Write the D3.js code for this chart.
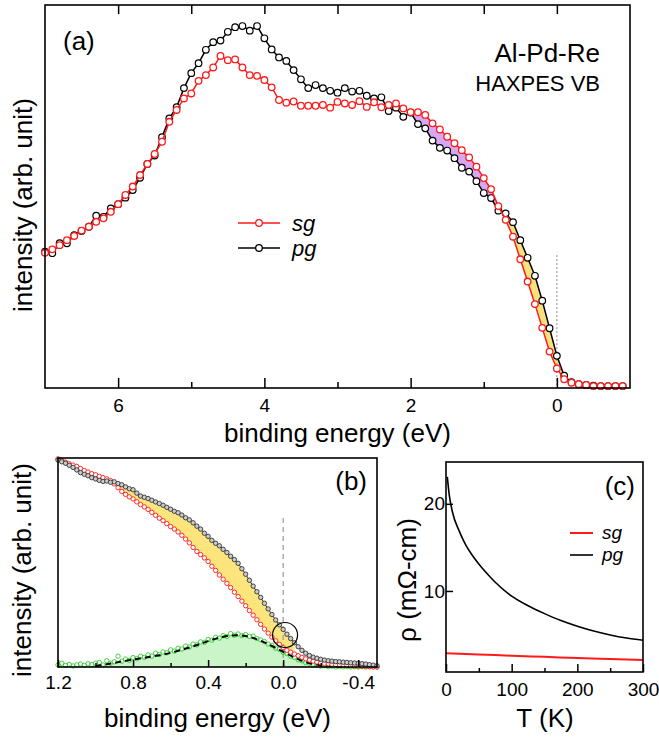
<!DOCTYPE html>
<html><head><meta charset="utf-8">
<script src="https://cdn.jsdelivr.net/npm/d3@7"></script>
<style>body{margin:0;background:#fff} text{font-family:"Liberation Sans",Arial,sans-serif;fill:#000}</style>
</head><body><svg id="c" width="659" height="737"></svg>
<script>
// ---------- DATA ----------
// Panel (a): HAXPES valence band, binding energy (eV)
const aEnergy = [7.0,6.9,6.8,6.7,6.6,6.5,6.4,6.3,6.2,6.1,6.0,5.9,5.8,5.7,5.6,5.5,5.4,5.3,5.2,5.1,
 5.0,4.9,4.8,4.7,4.6,4.5,4.4,4.3,4.2,4.1,4.0,3.9,3.8,3.7,3.6,3.5,3.4,3.3,3.2,3.1,
 3.0,2.9,2.8,2.7,2.6,2.5,2.4,2.3,2.2,2.1,2.0,1.9,1.8,1.7,1.6,1.5,1.4,1.3,1.2,1.1,
 1.0,0.9,0.8,0.7,0.6,0.5,0.4,0.3,0.2,0.1,0.0,-0.1,-0.2,-0.3,-0.4,-0.5,-0.6,-0.7,-0.8,-0.9];
const aSg = [0.353,0.362,0.373,0.386,0.397,0.411,0.421,0.434,0.443,0.460,
 0.480,0.504,0.526,0.556,0.585,0.611,0.643,0.695,0.726,0.756,
 0.769,0.802,0.817,0.837,0.867,0.856,0.858,0.837,0.817,0.815,
 0.804,0.785,0.752,0.745,0.748,0.737,0.737,0.737,0.739,0.732,
 0.747,0.743,0.739,0.749,0.734,0.746,0.733,0.739,0.743,0.730,
 0.720,0.720,0.713,0.691,0.675,0.656,0.639,0.621,0.602,0.578,
 0.548,0.519,0.475,0.439,0.395,0.336,0.278,0.219,0.157,0.095,
 0.051,0.023,0.014,0.010,0.008,0.005,0.005,0.005,0.005,0.005];
const aPg = [0.356,0.352,0.378,0.378,0.399,0.410,0.421,0.450,0.447,0.469,
 0.480,0.497,0.517,0.549,0.585,0.607,0.655,0.704,0.733,0.783,
 0.822,0.848,0.883,0.903,0.907,0.930,0.942,0.945,0.933,0.945,
 0.913,0.884,0.863,0.854,0.830,0.806,0.783,0.791,0.783,0.776,
 0.771,0.783,0.774,0.776,0.763,0.756,0.759,0.723,0.732,0.708,
 0.719,0.689,0.678,0.646,0.627,0.620,0.600,0.575,0.565,0.540,
 0.509,0.496,0.463,0.456,0.433,0.386,0.340,0.293,0.228,0.156,
 0.084,0.032,0.015,0.010,0.008,0.006,0.005,0.005,0.005,0.005];
const aTicks = [6,4,2,0];
const aTickLabels = ["6","4","2","0"];
const aMinor = [5,3,1];
const aTopTicks = [6,5,4,3,2,1,0];

// Panel (b): near-Fermi-level region
const bEnergy = [1.20,1.18,1.16,1.14,1.12,1.10,1.08,1.06,1.04,1.02,1.00,0.98,0.96,0.94,0.92,0.90,0.88,0.86,0.84,0.82,
 0.80,0.78,0.76,0.74,0.72,0.70,0.68,0.66,0.64,0.62,0.60,0.58,0.56,0.54,0.52,0.50,0.48,0.46,0.44,0.42,
 0.40,0.38,0.36,0.34,0.32,0.30,0.28,0.26,0.24,0.22,0.20,0.18,0.16,0.14,0.12,0.10,0.08,0.06,0.04,0.02,
 0.00,-0.02,-0.04,-0.06,-0.08,-0.10,-0.12,-0.14,-0.16,-0.18,-0.20,-0.22,-0.24,-0.26,-0.28,-0.30,-0.32,-0.34,-0.36,-0.38,
 -0.40,-0.42,-0.44,-0.46,-0.48,-0.50];
const bPg = [0.990,0.982,0.975,0.965,0.955,0.943,0.930,0.922,0.915,0.906,0.900,0.893,0.888,0.890,0.884,0.886,0.878,0.872,0.862,0.853,
 0.848,0.832,0.818,0.812,0.806,0.798,0.790,0.782,0.774,0.764,0.755,0.745,0.738,0.727,0.714,0.704,0.690,0.674,0.660,0.640,
 0.625,0.606,0.592,0.580,0.563,0.548,0.530,0.514,0.496,0.470,0.444,0.415,0.387,0.360,0.333,0.305,0.278,0.251,0.225,0.202,
 0.180,0.157,0.136,0.116,0.097,0.080,0.066,0.055,0.047,0.042,0.037,0.033,0.030,0.028,0.026,0.025,0.023,0.022,0.020,0.019,
 0.018,0.016,0.014,0.011,0.009,0.006];
const bSg = [0.996,0.988,0.980,0.972,0.966,0.960,0.950,0.940,0.933,0.925,0.920,0.912,0.906,0.900,0.892,0.876,0.858,0.840,0.826,0.814,
 0.804,0.790,0.777,0.766,0.754,0.740,0.726,0.712,0.700,0.686,0.672,0.660,0.646,0.630,0.612,0.594,0.572,0.553,0.538,0.522,
 0.505,0.482,0.462,0.440,0.420,0.400,0.380,0.358,0.337,0.315,0.293,0.270,0.248,0.226,0.204,0.182,0.162,0.143,0.125,0.108,
 0.093,0.080,0.071,0.062,0.054,0.046,0.039,0.033,0.028,0.024,0.020,0.017,0.015,0.013,0.011,0.010,0.009,0.008,0.006,0.005,
 0.004,0.003,0.003,0.002,0.001,0.000];
const bDiff = [0.010,0.018,0.008,0.012,0.005,0.010,0.014,0.008,0.015,0.012,0.018,0.022,0.010,0.030,0.018,0.025,0.052,0.028,0.038,0.032,
 0.045,0.040,0.052,0.046,0.058,0.052,0.066,0.060,0.072,0.068,0.082,0.076,0.090,0.086,0.100,0.096,0.110,0.106,0.120,0.118,
 0.132,0.128,0.142,0.138,0.150,0.146,0.160,0.152,0.158,0.150,0.155,0.146,0.148,0.136,0.130,0.122,0.110,0.104,0.090,0.084,
 0.070,0.064,0.052,0.046,0.034,0.030,0.020,0.018,0.010,0.010,0.004,0.006,0.002,0.004,0.000,0.003,0.001,0.002,0.000,0.001,
 0.000,0.002,0.000,0.001,0.000,0.000];
const bFitEnergy = [1.00,0.95,0.90,0.85,0.80,0.75,0.70,0.65,0.60,0.55,0.50,0.45,0.40,0.35,0.30,0.25,0.20,0.15,0.10,0.05,0.00,-0.05,-0.10,-0.15,-0.20,-0.25,-0.30,-0.40,-0.50];
const bFit = [0.004,0.012,0.020,0.028,0.036,0.043,0.050,0.058,0.068,0.080,0.093,0.108,0.124,0.138,0.148,0.152,0.148,0.136,0.118,0.096,0.073,0.050,0.030,0.016,0.008,0.004,0.002,0.001,0.000];
const bTicks = [1.2,0.8,0.4,0.0,-0.4];
const bTickLabels = ["1.2","0.8","0.4","0.0","-0.4"];
const bMinor = [1.0,0.6,0.2,-0.2];

// Panel (c): resistivity vs temperature
const cTpg = [2,5,10,20,30,40,50,60,75,100,125,150,175,200,225,250,275,300];
const cRhoPg = [23.1,21.0,19.0,16.9,15.3,14.1,13.1,12.2,11.0,9.4,8.3,7.4,6.6,5.95,5.4,4.95,4.6,4.35];
const cTsg = [0,50,100,150,200,250,300];
const cRhoSg = [2.85,2.72,2.57,2.44,2.30,2.18,2.07];
const cXTicks = [0,100,200,300];
const cXMinor = [50,150,250];
const cYTicks = [10,20];

// ---------- DRAW ----------
const svg = d3.select("#c");
const RED = "#ff1a1a";

function styleAxis(g){ g.select(".domain").remove(); g.selectAll(".tick line").attr("stroke","#000").attr("stroke-width",1.5); g.selectAll(".tick text").attr("font-size",19).attr("font-family",'"Liberation Sans",Arial,sans-serif'); }

// ===== Panel (a) =====
const xA = d3.scaleLinear().domain([7,-1]).range([45,630]);
const yA = d3.scaleLinear().domain([0,1]).range([388,5]);
const gA = svg.append("g");
const dA = aEnergy.map((e,i)=>({e, s:aSg[i], p:aPg[i]}));
gA.append("path").datum(dA.filter(d=>d.e<=2.0 && d.e>=0.7))
  .attr("d", d3.area().x(d=>xA(d.e)).y0(d=>yA(d.p)).y1(d=>yA(Math.max(d.s,d.p))))
  .attr("fill","#d6a8f2");
gA.append("path").datum(dA.filter(d=>d.e<=0.8 && d.e>=-0.2))
  .attr("d", d3.area().x(d=>xA(d.e)).y0(d=>yA(d.s)).y1(d=>yA(Math.max(d.s,d.p))))
  .attr("fill","#f9e27e");
gA.append("line").attr("x1",xA(0)).attr("x2",xA(0)).attr("y1",yA(0.347)).attr("y2",yA(0))
  .attr("stroke","#888").attr("stroke-width",1).attr("stroke-dasharray","2,2");
const lineA = key => d3.line().x(d=>xA(d.e)).y(d=>yA(d[key]));
gA.append("path").datum(dA).attr("d",lineA("p")).attr("fill","none").attr("stroke","#000").attr("stroke-width",1.5);
gA.selectAll(".cp").data(dA).join("circle").attr("cx",d=>xA(d.e)).attr("cy",d=>yA(d.p)).attr("r",3.3)
  .attr("fill","#fff").attr("stroke","#000").attr("stroke-width",1.2);
gA.append("path").datum(dA).attr("d",lineA("s")).attr("fill","none").attr("stroke",RED).attr("stroke-width",1.5);
gA.selectAll(".cs").data(dA).join("circle").attr("cx",d=>xA(d.e)).attr("cy",d=>yA(d.s)).attr("r",3.3)
  .attr("fill","#fff").attr("stroke",RED).attr("stroke-width",1.3);

gA.append("g").attr("transform","translate(0,388)")
  .call(d3.axisBottom(xA).tickValues(aTicks).tickFormat((d,i)=>aTickLabels[i]).tickSizeInner(-10).tickSizeOuter(0).tickPadding(11)).call(styleAxis);
gA.append("g").attr("transform","translate(0,388)")
  .call(d3.axisBottom(xA).tickValues(aMinor).tickFormat("").tickSizeInner(-6).tickSizeOuter(0)).call(styleAxis);
gA.append("g").attr("transform","translate(0,5)")
  .call(d3.axisTop(xA).tickValues(aTopTicks).tickFormat("").tickSizeInner(-9).tickSizeOuter(0)).call(styleAxis);
gA.append("rect").attr("x",45).attr("y",5).attr("width",585).attr("height",383).attr("fill","none").attr("stroke","#000").attr("stroke-width",1.6);

gA.append("text").attr("x",63).attr("y",50).attr("font-size",26).text("(a)");
gA.append("text").attr("x",600).attr("y",62).attr("font-size",26).attr("text-anchor","end").text("Al-Pd-Re");
gA.append("text").attr("x",600).attr("y",91).attr("font-size",22).attr("text-anchor","end").text("HAXPES VB");
gA.append("text").attr("x",337.5).attr("y",442).attr("font-size",26).attr("text-anchor","middle").text("binding energy (eV)");
gA.append("text").attr("transform","translate(32,205) rotate(-90)").attr("font-size",26).attr("text-anchor","middle").text("intensity (arb. unit)");
// legend (a)
[["sg",RED,223],["pg","#000",248]].forEach(([t,c,y])=>{
  gA.append("line").attr("x1",238).attr("x2",280).attr("y1",y).attr("y2",y).attr("stroke",c).attr("stroke-width",1.5);
  gA.append("circle").attr("cx",259).attr("cy",y).attr("r",3.3).attr("fill","#fff").attr("stroke",c).attr("stroke-width",1.3);
  gA.append("text").attr("x",292).attr("y",y+8).attr("font-size",22).attr("font-style","italic").text(t);
});

// ===== Panel (b) =====
const xB = d3.scaleLinear().domain([1.2,-0.5]).range([58,377]);
const yB = d3.scaleLinear().domain([0,1]).range([667,458]);
const gB = svg.append("g");
const dB = bEnergy.map((e,i)=>({e, s:bSg[i], p:bPg[i], g:bDiff[i]}));
const dFit = bFitEnergy.map((e,i)=>({e, v:bFit[i]}));
gB.append("path").datum(dFit).attr("d", d3.area().curve(d3.curveMonotoneX).x(d=>xB(d.e)).y0(yB(0)).y1(d=>yB(d.v))).attr("fill","#c9f5c9");
gB.append("path").datum(dB.filter(d=>d.e<=0.9 && d.e>=-0.06))
  .attr("d", d3.area().x(d=>xB(d.e)).y0(d=>yB(d.s)).y1(d=>yB(Math.max(d.s,d.p)))).attr("fill","#fbe57c");
gB.append("line").attr("x1",xB(0)).attr("x2",xB(0)).attr("y1",518).attr("y2",yB(0))
  .attr("stroke","#999").attr("stroke-width",1.2).attr("stroke-dasharray","5,4");
gB.selectAll(".cg").data(dB).join("circle").attr("cx",d=>xB(d.e)).attr("cy",d=>yB(d.g)).attr("r",2.2)
  .attr("fill","none").attr("stroke","#33cc33").attr("stroke-width",0.9);
gB.append("path").datum(dFit).attr("d", d3.line().curve(d3.curveMonotoneX).x(d=>xB(d.e)).y(d=>yB(d.v)))
  .attr("fill","none").attr("stroke","#000").attr("stroke-width",2).attr("stroke-dasharray","6,4");
gB.append("path").datum(dB).attr("d", d3.line().x(d=>xB(d.e)).y(d=>yB(d.s))).attr("fill","none").attr("stroke",RED).attr("stroke-width",0.8);
gB.selectAll(".cs").data(dB).join("circle").attr("cx",d=>xB(d.e)).attr("cy",d=>yB(d.s)).attr("r",2.2)
  .attr("fill","#fff").attr("stroke",RED).attr("stroke-width",0.9);
gB.append("path").datum(dB).attr("d", d3.line().x(d=>xB(d.e)).y(d=>yB(d.p))).attr("fill","none").attr("stroke","#000").attr("stroke-width",0.8);
gB.selectAll(".cp").data(dB).join("circle").attr("cx",d=>xB(d.e)).attr("cy",d=>yB(d.p)).attr("r",2.2)
  .attr("fill","#ccc").attr("stroke","#333").attr("stroke-width",0.9);
gB.append("circle").attr("cx",xB(-0.01)).attr("cy",yB(0.153)).attr("r",12.5).attr("fill","none").attr("stroke","#000").attr("stroke-width",1.2);

gB.append("g").attr("transform","translate(0,667)")
  .call(d3.axisBottom(xB).tickValues(bTicks).tickFormat((d,i)=>bTickLabels[i]).tickSizeInner(-7).tickSizeOuter(0).tickPadding(8.5)).call(styleAxis);
gB.append("g").attr("transform","translate(0,667)")
  .call(d3.axisBottom(xB).tickValues(bMinor).tickFormat("").tickSizeInner(-4).tickSizeOuter(0)).call(styleAxis);
gB.append("rect").attr("x",58).attr("y",458).attr("width",319).attr("height",209).attr("fill","none").attr("stroke","#000").attr("stroke-width",1.6);
gB.append("text").attr("x",367).attr("y",490).attr("font-size",26).attr("text-anchor","end").text("(b)");
gB.append("text").attr("x",217.5).attr("y",727).attr("font-size",26).attr("text-anchor","middle").text("binding energy (eV)");
gB.append("text").attr("transform","translate(31,570) rotate(-90)").attr("font-size",26).attr("text-anchor","middle").text("intensity (arb. unit)");

// ===== Panel (c) =====
const xC = d3.scaleLinear().domain([0,300]).range([446,643]);
const yC = d3.scaleLinear().domain([0.7,24.8]).range([672,462]);
const gC = svg.append("g");
gC.append("path").datum(cTpg.map((t,i)=>({t,v:cRhoPg[i]})))
  .attr("d", d3.line().curve(d3.curveMonotoneX).x(d=>xC(d.t)).y(d=>yC(d.v))).attr("fill","none").attr("stroke","#000").attr("stroke-width",1.6);
gC.append("path").datum(cTsg.map((t,i)=>({t,v:cRhoSg[i]})))
  .attr("d", d3.line().curve(d3.curveMonotoneX).x(d=>xC(d.t)).y(d=>yC(d.v))).attr("fill","none").attr("stroke",RED).attr("stroke-width",2);
gC.append("g").attr("transform","translate(0,672)")
  .call(d3.axisBottom(xC).tickValues(cXTicks).tickFormat(d3.format("d")).tickSizeInner(-8).tickSizeOuter(0).tickPadding(11)).call(styleAxis);
gC.append("g").attr("transform","translate(0,672)")
  .call(d3.axisBottom(xC).tickValues(cXMinor).tickFormat("").tickSizeInner(-4).tickSizeOuter(0)).call(styleAxis);
gC.append("g").attr("transform","translate(446,0)")
  .call(d3.axisLeft(yC).tickValues(cYTicks).tickFormat(d3.format("d")).tickSizeInner(-7).tickSizeOuter(0).tickPadding(1)).call(styleAxis);
gC.append("rect").attr("x",446).attr("y",462).attr("width",197).attr("height",210).attr("fill","none").attr("stroke","#000").attr("stroke-width",1.6);
gC.append("text").attr("x",635).attr("y",495).attr("font-size",26).attr("text-anchor","end").text("(c)");
[["sg",RED,533],["pg","#000",555]].forEach(([t,c,y])=>{
  gC.append("line").attr("x1",570).attr("x2",593).attr("y1",y).attr("y2",y).attr("stroke",c).attr("stroke-width",c===RED?2:1.6);
  gC.append("text").attr("x",602).attr("y",y+6).attr("font-size",19).attr("font-style","italic").text(t);
});
gC.append("text").attr("x",545).attr("y",727).attr("font-size",26).attr("text-anchor","middle").text("T (K)");
gC.append("text").attr("transform","translate(416,580) rotate(-90)").attr("font-size",26).attr("text-anchor","middle").text("ρ (mΩ-cm)");
</script></body></html>
